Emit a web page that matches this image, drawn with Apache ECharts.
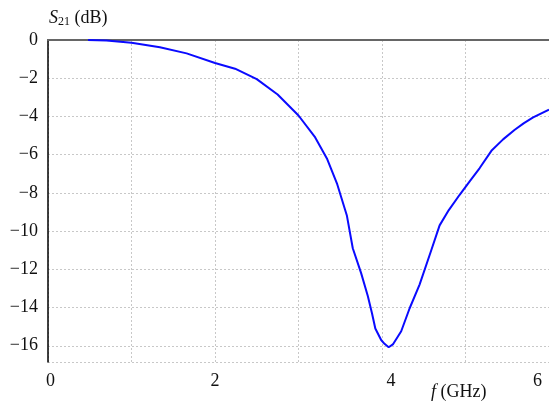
<!DOCTYPE html>
<html>
<head>
<meta charset="utf-8">
<script src="https://cdn.jsdelivr.net/npm/echarts@6/dist/echarts.min.js"></script>
<style>
  html, body { margin: 0; padding: 0; background: #fff; }
  #chart { width: 549px; height: 403px; }
</style>
</head>
<body>
<div id="chart"></div>
<script>
// frequency in GHz, S21 in dB
const freq = [0.48, 0.7, 1.0, 1.34, 1.66, 2.0, 2.24, 2.5, 2.75, 3.0, 3.2, 3.34, 3.46, 3.58, 3.65,
  3.75, 3.83, 3.88, 3.92, 3.99, 4.03, 4.08, 4.13, 4.23, 4.33, 4.45, 4.59, 4.69, 4.8, 4.93,
  5.05, 5.17, 5.31, 5.45, 5.59, 5.7, 5.81, 6.0];
const s21 = [0, -0.02, -0.14, -0.38, -0.7, -1.2, -1.5, -2.05, -2.85, -3.95, -5.1, -6.2, -7.5, -9.2, -10.9,
  -12.2, -13.4, -14.3, -15.1, -15.7, -15.9, -16.08, -15.93, -15.24, -14.05, -12.8, -11.0, -9.7, -8.9, -8.1,
  -7.4, -6.7, -5.8, -5.2, -4.7, -4.35, -4.05, -3.65];
const xTicks = [0, 2, 4, 6];

const font = 'Liberation Serif';
// y axis runs on the loss (-S21) with inverse so the ticks start at 0
const label = v => v === 0 ? '0' : '\u2212' + v;

const chart = echarts.init(document.getElementById('chart'));
chart.setOption({
  animation: false,
  grid: { left: 48, top: 40, right: 0, bottom: 41, containLabel: false },
  xAxis: [{
    type: 'value', min: 0, max: 6, interval: 1,
    axisLine: { lineStyle: { color: '#555', width: 2 } },
    axisTick: { show: false },
    splitLine: { lineStyle: { color: '#c8c8c8', type: [2, 2] } },
    axisLabel: {
      margin: 10, fontFamily: font, fontSize: 18, color: '#111',
      formatter: v => {
        const i = xTicks.indexOf(v);
        return i < 0 ? '' : '{t' + i + '|' + v + '}';
      },
      rich: {
        t0: { fontFamily: font, fontSize: 18, color: '#111', padding: [0, 0, 0, 5] },
        t1: { fontFamily: font, fontSize: 18, color: '#111' },
        t2: { fontFamily: font, fontSize: 18, color: '#111', padding: [0, 0, 0, 18] },
        t3: { fontFamily: font, fontSize: 18, color: '#111', padding: [0, 23, 0, 0] }
      }
    }
  }, {
    type: 'value', position: 'top', min: 0, max: 6,
    axisLine: { show: true, lineStyle: { color: '#666', width: 2 } },
    axisTick: { show: false }, axisLabel: { show: false }, splitLine: { show: false }
  }],
  yAxis: {
    type: 'value', inverse: true, min: 0, max: 16.85, interval: 2,
    axisLine: { show: true, lineStyle: { color: '#000', width: 1.5 } },
    axisTick: { show: false },
    splitLine: { lineStyle: { color: '#c8c8c8', type: [2, 2] } },
    axisLabel: {
      margin: 10, fontFamily: font, fontSize: 18, color: '#111',
      formatter: v => v % 2 === 0 ? label(v) : ''
    }
  },
  graphic: [{
    type: 'text', left: 49, top: 9,
    style: {
      text: '{i|S}{s|21}{n| (dB)}',
      rich: {
        i: { fontFamily: font, fontSize: 18, fontStyle: 'italic', fill: '#111' },
        s: { fontFamily: font, fontSize: 12, fill: '#111', padding: [8, 0, 0, 0] },
        n: { fontFamily: font, fontSize: 18, fill: '#111' }
      }
    }
  }, {
    type: 'text', left: 431, top: 383,
    style: {
      text: '{i|f}{n| (GHz)}',
      rich: {
        i: { fontFamily: font, fontSize: 18, fontStyle: 'italic', fill: '#111' },
        n: { fontFamily: font, fontSize: 18, fill: '#111' }
      }
    }
  }],
  series: [{
    type: 'line', data: freq.map((f, i) => [f, -s21[i]]),
    showSymbol: false, smooth: false,
    lineStyle: { color: '#0a0aff', width: 2 }
  }]
});
</script>
</body>
</html>
